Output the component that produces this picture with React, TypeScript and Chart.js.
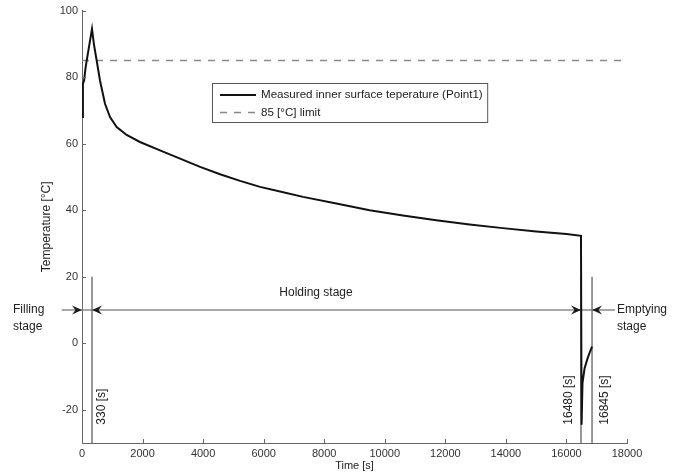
import React, { useEffect, useRef } from 'react';
import { Chart, registerables } from 'chart.js';

Chart.register(...registerables);

// Measured inner surface temperature (Point1)
const timeS = [0, 30, 70, 120, 330, 400, 485, 594, 760, 925, 1145, 1475, 1915, 2575, 3240, 3900, 4560, 5220, 5880, 6540, 7300, 8400, 9500, 10600, 11700, 12800, 13900, 15000, 16000, 16480, 16500, 16530, 16600, 16700, 16780, 16845];
const tempC = [68, 78, 79, 83, 94.5, 89.5, 85, 79, 72, 68, 65, 62.6, 60.5, 58, 55.5, 53, 50.8, 48.8, 47, 45.6, 44, 42, 40, 38.4, 37, 35.7, 34.6, 33.6, 32.8, 32.3, -24.5, -12, -7.5, -4.5, -2.5, -1];

// 85 [°C] limit
const limitTemp = 85;
const limitRange = [0, 18000];

// Stage markers
const markTimes = [330, 16480, 16845];
const markLabels = ['330 [s]', '16480 [s]', '16845 [s]'];
const markTop = 20;

// Stage arrows
const stageArrowY = 10;
const stageLineRange = [-670, 17600];
const arrowTimes = [0, 330, 16480, 16845];
const arrowDirs = [1, -1, 1, -1];

// Axis ranges / ticks
const xMin = 0, xMax = 18000, xStep = 2000;
const yMin = -30, yMax = 100, yStep = 20;

const FONT = '"Liberation Sans", Arial, Helvetica, sans-serif';

function makeArrow(dir: number) {
  const c = document.createElement('canvas');
  c.width = 24;
  c.height = 24;
  const g = c.getContext('2d')!;
  g.fillStyle = '#1a1a1a';
  g.beginPath();
  g.moveTo(12, 12);
  g.lineTo(12 - dir * 10, 7.5);
  g.lineTo(12 - dir * 6.5, 12);
  g.lineTo(12 - dir * 10, 16.5);
  g.closePath();
  g.fill();
  return c;
}

const annotPlugin = {
  id: 'annot',
  afterDraw(chart: any) {
    const ctx = chart.ctx as CanvasRenderingContext2D;
    const xs = chart.scales.x;
    const ys = chart.scales.y;
    const area = chart.chartArea;
    ctx.save();

    // inward tick marks
    ctx.strokeStyle = '#666';
    ctx.lineWidth = 1;
    ctx.beginPath();
    xs.ticks.forEach((t: any) => {
      const px = Math.round(xs.getPixelForValue(t.value)) + 0.5;
      ctx.moveTo(px, area.bottom);
      ctx.lineTo(px, area.bottom - 4);
    });
    ys.ticks.forEach((t: any) => {
      const py = Math.round(ys.getPixelForValue(t.value)) + 0.5;
      ctx.moveTo(area.left, py);
      ctx.lineTo(area.left + 4, py);
    });
    ctx.stroke();

    // stage texts
    ctx.fillStyle = '#222';
    ctx.font = `12px ${FONT}`;
    ctx.textBaseline = 'middle';
    const y10 = ys.getPixelForValue(stageArrowY);
    ctx.textAlign = 'left';
    ctx.fillText('Filling', 13, y10);
    ctx.fillText('stage', 13, y10 + 17);
    ctx.fillText('Emptying', 617, y10);
    ctx.fillText('stage', 617, y10 + 17);
    ctx.textAlign = 'center';
    ctx.fillText('Holding stage', 316, y10 - 17);

    // rotated marker labels
    const offs = [10, -12.5, 12.5];
    const yBase = ys.getPixelForValue(-24.5);
    markTimes.forEach((t, i) => {
      ctx.save();
      ctx.translate(xs.getPixelForValue(t) + offs[i], yBase);
      ctx.rotate(-Math.PI / 2);
      ctx.textAlign = 'left';
      ctx.textBaseline = 'middle';
      ctx.fillText(markLabels[i], 0, 0);
      ctx.restore();
    });

    // legend
    const bx = 212.5, by = 83.5;
    const textX = 261;
    ctx.font = `11.6px ${FONT}`;
    const w1 = ctx.measureText('Measured inner surface teperature (Point1)').width;
    const bw = textX - bx + w1 + 5;
    const bh = 39;
    ctx.fillStyle = '#fff';
    ctx.fillRect(bx, by, bw, bh);
    ctx.strokeStyle = '#555';
    ctx.lineWidth = 1;
    ctx.strokeRect(bx, by, bw, bh);
    ctx.strokeStyle = '#111';
    ctx.lineWidth = 2;
    ctx.beginPath();
    ctx.moveTo(220, 95);
    ctx.lineTo(256, 95);
    ctx.stroke();
    ctx.strokeStyle = '#888';
    ctx.lineWidth = 1.5;
    ctx.setLineDash([7, 7]);
    ctx.beginPath();
    ctx.moveTo(220, 112.5);
    ctx.lineTo(258, 112.5);
    ctx.stroke();
    ctx.setLineDash([]);
    ctx.fillStyle = '#222';
    ctx.textAlign = 'left';
    ctx.textBaseline = 'middle';
    ctx.fillText('Measured inner surface teperature (Point1)', textX, 95);
    ctx.fillText('85 [°C] limit', textX, 112.5);

    ctx.restore();
  },
};

export default function App() {
  const ref = useRef<HTMLCanvasElement>(null);
  useEffect(() => {
    const arrows = arrowDirs.map((d) => makeArrow(d));
    const curve = timeS.map((t, i) => ({ x: t, y: tempC[i] }));
    const markSets = markTimes.map((t) => ({
      type: 'line' as const,
      data: [{ x: t, y: markTop }, { x: t, y: yMin }],
      borderColor: '#777',
      borderWidth: 1.5,
      pointRadius: 0,
      clip: false,
    }));
    const chart = new Chart(ref.current!, {
      type: 'line',
      data: {
        datasets: [
          {
            label: 'Measured inner surface teperature (Point1)',
            data: curve,
            borderColor: '#111',
            borderWidth: 2,
            pointRadius: 0,
            tension: 0,
          },
          {
            label: 'arrows',
            data: arrowTimes.map((t) => ({ x: t, y: stageArrowY })),
            showLine: false,
            pointRadius: 5,
            pointStyle: arrows as any,
            clip: false,
          },
          {
            label: '85 [°C] limit',
            data: limitRange.map((t) => ({ x: t, y: limitTemp })),
            borderColor: '#8a8a8a',
            borderWidth: 1.5,
            borderDash: [7, 7],
            pointRadius: 0,
          },
          ...markSets,
          {
            label: 'stages',
            data: stageLineRange.map((t) => ({ x: t, y: stageArrowY })),
            borderColor: '#888',
            borderWidth: 1.5,
            pointRadius: 0,
            clip: false,
          },
        ] as any,
      },
      options: {
        animation: false,
        responsive: true,
        maintainAspectRatio: false,
        layout: { padding: { left: 39, right: 53, top: 10, bottom: 0 } },
        plugins: { legend: { display: false }, tooltip: { enabled: false } },
        events: [],
        scales: {
          x: {
            type: 'linear',
            min: xMin,
            max: xMax,
            ticks: {
              stepSize: xStep,
              color: '#333',
              font: { size: 11, family: FONT },
              padding: 4,
              maxRotation: 0,
              callback: (v: any) => String(v),
            },
            grid: { display: false, drawTicks: false },
            border: { display: true, color: '#666', width: 1 },
            title: {
              display: true,
              text: 'Time [s]',
              color: '#222',
              font: { size: 11, family: FONT },
              padding: { top: 0, bottom: 2 },
            },
            afterFit: (s: any) => {
              s.height = 32;
            },
          },
          y: {
            type: 'linear',
            min: yMin,
            max: yMax,
            ticks: {
              stepSize: yStep,
              color: '#333',
              font: { size: 11, family: FONT },
              padding: 4,
              callback: (v: any) => String(v),
            },
            afterBuildTicks: (s: any) => {
              s.ticks = s.ticks.filter((t: any) => t.value % yStep === 0);
            },
            grid: { display: false, drawTicks: false },
            border: { display: true, color: '#666', width: 1 },
            title: {
              display: true,
              text: 'Temperature [°C]',
              color: '#222',
              font: { size: 12, family: FONT },
              padding: 0,
            },
            afterFit: (s: any) => {
              s.width = 43;
            },
          },
        },
      } as any,
      plugins: [annotPlugin],
    });
    return () => chart.destroy();
  }, []);
  return (
    <div style={{ position: 'absolute', left: 0, top: 0, width: 680, height: 475, background: '#fff' }}>
      <canvas ref={ref} />
    </div>
  );
}
